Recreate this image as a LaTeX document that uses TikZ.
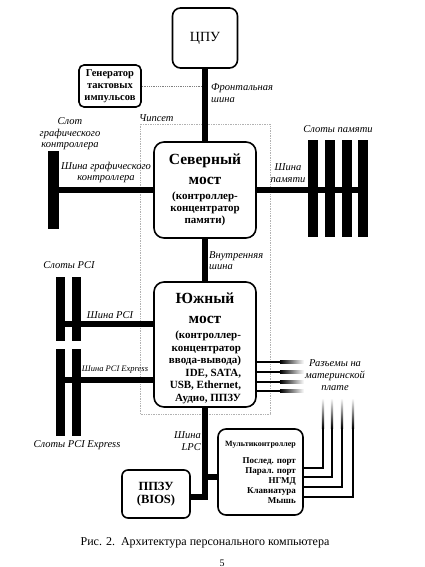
\documentclass[tikz,border=0pt]{standalone}
\usepackage{fontspec}
\setmainfont{Liberation Serif}
\usetikzlibrary{positioning,calc}
\newcommand\bigtxt{\fontsize{15.5}{18}\selectfont}

\begin{document}
\begin{tikzpicture}[x=1pt,y=-1pt,
	box/.style={draw,rounded corners=8pt,line width=1.6pt,align=center,inner sep=1pt},
	bus/.style={line width=6pt},
	slotbar/.style={fill=black,minimum width=10pt,inner sep=0pt},
	lbl/.style={font=\fontsize{10.5}{11.5}\selectfont\itshape,align=center,inner sep=0pt},
	wire/.style={line width=2.2pt}]
	\useasboundingbox (0,0) rectangle (425,567);
	\draw[gray!60,densely dotted,line width=0.7pt] (140,124) rectangle (270,414);
	\node[lbl,anchor=west] (chip) at (139,118) {Чипсет};
	\node[box,minimum width=65pt,minimum height=60pt,font=\fontsize{14}{16}\selectfont] (cpu) at (205,38) {ЦПУ};
	\node[box,rounded corners=5pt,minimum width=62pt,minimum height=42pt,font=\fontsize{10.5}{12}\selectfont\bfseries] (gen) at (110,86) {Генератор\\тактовых\\импульсов};
	\node[box,rounded corners=10pt,minimum width=102pt,minimum height=96pt,font=\fontsize{11}{12}\selectfont\bfseries] (nb) at (205,190)
		{\bigtxt Северный\\[8pt]\bigtxt мост\\[3pt](контроллер-\\концентратор\\памяти)};
	\node[box,rounded corners=10pt,minimum width=102pt,minimum height=125pt,font=\fontsize{11}{12.5}\selectfont\bfseries] (sb) at (205,344.5)
		{\rule{0pt}{19pt}\bigtxt Южный\\[8pt]\bigtxt мост\\[5pt]
		\begin{tabular}{@{}r@{}}(контроллер-\\концентратор\\ввода-вывода)\\IDE, SATA,\\USB, Ethernet,\\Аудио, ППЗУ\end{tabular}};
	\node[box,align=right,minimum width=85pt,minimum height=86pt,font=\fontsize{9}{10}\selectfont\bfseries] (mc) at (260.5,472)
		{{\fontsize{8}{10}\selectfont Мультиконтроллер}\\[7pt]Послед. порт\\Парал. порт\\НГМД\\Клавиатура\\Мышь};
	\node[box,rounded corners=6pt,minimum width=68pt,minimum height=48pt,font=\fontsize{12.5}{13}\selectfont\bfseries] (bios) at (156,494) {ППЗУ\\(BIOS)};
	\node[slotbar,minimum width=11pt,minimum height=78pt] (gs) at (53.5,190) {};
	\foreach \X [count=\Y] in {312.5,329.5,346.5,362.5}
		\node[slotbar,minimum height=97pt] (ms-\Y) at (\X,188.5) {};
	\foreach \X [count=\Y] in {60.5,76.5}
		{\node[slotbar,minimum width=9.5pt,minimum height=64pt] (pci-\Y) at (\X,309) {};
		\node[slotbar,minimum width=9.5pt,minimum height=87pt] (pcie-\Y) at (\X,392.5) {};}
	\draw[gray,densely dotted,line width=0.8pt] (gen.east) -- (gen.east -| cpu.south);
	\draw[bus] (cpu) -- (nb);
	\draw[bus] (nb) -- (sb);
	\draw[bus] (gs) -- (gs -| nb.west);
	\draw[bus] (nb.east) -- (nb.east -| ms-4);
	\coordinate (pb) at ([yshift=-15pt]pci-1.center);
	\coordinate (peb) at ([yshift=12.5pt]pcie-1.center);
	\draw[bus] (pb) -- (pb -| sb.west);
	\draw[bus] (peb) -- (peb -| sb.west);
	\coordinate (lb) at ([yshift=-3pt]bios.east);
	\coordinate (lm) at ([yshift=-5pt]mc.west);
	\draw[bus] (sb.south) |- (lb);
	\draw[bus] (sb.south |- lm) -- (lm);
	\foreach \Y in {362,372,382,391}
		{\draw[wire] (sb.east |- 0,\Y) -- (280,\Y);
		\shade[left color=black,right color=white] (280,\Y-1.1) rectangle (304,\Y+1.1);}
	\foreach \Y/\X in {468/323,477/332,487/342,497/353}
		{\draw[wire] (mc.east |- 0,\Y) -| (\X,428);
		\shade[bottom color=black,top color=white] (\X-1.1,398) rectangle (\X+1.1,428);}
	\node[lbl,anchor=west,align=left] (fsb) at (211,93) {Фронтальная\\шина};
	\node[lbl] (gsl) at (70,134) {Слот\\графического\\контроллера};
	\node[lbl] (gbus) at (106,172.5) {Шина графического\\контроллера};
	\node[lbl] (msl) at (338,129) {Слоты памяти};
	\node[lbl] (mbus) at (288,173) {Шина\\памяти};
	\node[lbl,anchor=west,align=left] (ibus) at (209,260.5) {Внутренняя\\шина};
	\node[lbl] (psl) at (69,265) {Слоты PCI};
	\node[lbl] (pbus) at (110,315) {Шина PCI};
	\node[lbl,font=\fontsize{8.5}{9}\selectfont\itshape] (pebus) at (115,370) {Шина PCI Express};
	\node[lbl] (pesl) at (77,445) {Слоты PCI Express};
	\node[lbl,font=\fontsize{10.5}{12}\selectfont\itshape] (conn) at (335,375) {Разъемы на\\материнской\\плате};
	\node[lbl,anchor=east,align=right] (lpc) at (201,441) {Шина\\LPC};
	\node[font=\fontsize{12}{14}\selectfont] (cap) at (205,543) {Рис. 2.\ \ Архитектура персонального компьютера};
	\node[font=\fontsize{10}{12}\selectfont] (pg) at (222,563) {5};
\end{tikzpicture}
\end{document}
